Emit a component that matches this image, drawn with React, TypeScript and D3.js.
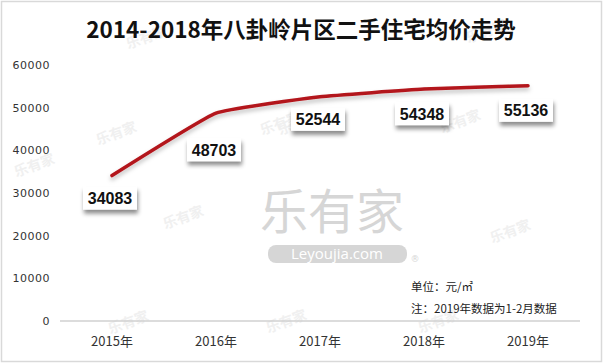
import React, { useEffect, useRef } from "react";
import * as d3 from "d3";

const years = ["2015年", "2016年", "2017年", "2018年", "2019年"];
const prices = [34083, 48703, 52544, 54348, 55136];
const yTicks = [0, 10000, 20000, 30000, 40000, 50000, 60000];
const labelDy = [23, 37, 23, 25, 25];
const marks = [
  [148, 42], [488, 36], [118, 138], [282, 128], [185, 222], [300, 128],
  [462, 126], [130, 327], [288, 326], [440, 326], [512, 236], [36, 170],
];

const W = 603;
const H = 363;

export default function App() {
  const ref = useRef<SVGSVGElement>(null);

  useEffect(() => {
    const svg = d3.select(ref.current);
    svg.selectAll("*").remove();

    const x = d3.scaleBand().domain(years).range([60, 580]);
    const y = d3.scaleLinear().domain([0, 60000]).range([321, 65]);
    const cx = (d: string) => (x(d) as number) + x.bandwidth() / 2;

    const defs = svg.append("defs");
    const f = defs.append("filter").attr("id", "shd").attr("x", "-30%").attr("y", "-30%").attr("width", "160%").attr("height", "180%");
    f.append("feDropShadow").attr("dx", 1).attr("dy", 4).attr("stdDeviation", 2).attr("flood-color", "#000").attr("flood-opacity", 0.45);
    const lf = defs.append("filter").attr("id", "lshd").attr("x", "-10%").attr("y", "-30%").attr("width", "120%").attr("height", "160%");
    lf.append("feDropShadow").attr("dx", 0).attr("dy", 3).attr("stdDeviation", 2).attr("flood-color", "#000").attr("flood-opacity", 0.25);

    svg.append("rect").attr("x", 0).attr("y", 0).attr("width", W).attr("height", H).attr("fill", "#fff");
    svg.append("rect").attr("x", 1.5).attr("y", 1.5).attr("width", W - 3).attr("height", H - 3)
      .attr("fill", "none").attr("stroke", "#d9d9d9").attr("stroke-width", 1.5);

    // small watermarks
    svg.selectAll("text.wm").data(marks).enter().append("text")
      .attr("class", "wm")
      .attr("transform", (d) => `translate(${d[0]},${d[1]}) rotate(-20)`)
      .attr("text-anchor", "middle")
      .attr("font-family", "Noto Sans CJK SC")
      .attr("font-weight", 700)
      .attr("font-size", 14)
      .attr("fill", "#f0f0f0")
      .text("乐有家");

    // big watermark
    svg.append("text").attr("x", 332).attr("y", 229).attr("text-anchor", "middle")
      .attr("font-family", "Noto Sans CJK SC").attr("font-size", 48).attr("fill", "#d6d6d6").text("乐有家");
    svg.append("rect").attr("x", 268).attr("y", 245).attr("width", 139).attr("height", 18).attr("rx", 8)
      .attr("fill", "#d6d6d6");
    svg.append("text").attr("x", 337).attr("y", 259).attr("text-anchor", "middle")
      .attr("font-family", "Open Sans").attr("font-size", 15).attr("fill", "#fff").text("Leyoujia.com");
    svg.append("text").attr("x", 415).attr("y", 262).attr("text-anchor", "middle")
      .attr("font-family", "DejaVu Sans").attr("font-size", 9).attr("fill", "#d6d6d6").text("®");

    // title
    svg.append("text").attr("x", 301).attr("y", 38).attr("text-anchor", "middle")
      .attr("font-family", "Noto Sans CJK SC").attr("font-weight", 700).attr("font-size", 22.5)
      .attr("fill", "#111").text("2014-2018年八卦岭片区二手住宅均价走势");

    // y axis labels
    svg.selectAll("text.yt").data(yTicks).enter().append("text")
      .attr("class", "yt")
      .attr("x", 50).attr("y", (d) => y(d) + 4)
      .attr("text-anchor", "end")
      .attr("font-family", "DejaVu Sans").attr("font-size", 11).attr("letter-spacing", 0.5)
      .attr("fill", "#333").text((d) => d);

    // x axis line
    svg.append("line").attr("x1", 60).attr("x2", 580).attr("y1", y(0)).attr("y2", y(0))
      .attr("stroke", "#d0d0d0").attr("stroke-width", 1.5);

    svg.selectAll("text.xt").data(years).enter().append("text")
      .attr("class", "xt")
      .attr("x", (d) => cx(d)).attr("y", 346)
      .attr("text-anchor", "middle")
      .attr("font-family", "Noto Sans CJK SC").attr("font-size", 13)
      .attr("fill", "#333").text((d) => d);

    // notes
    svg.append("text").attr("x", 411).attr("y", 291)
      .attr("font-family", "Noto Sans CJK SC").attr("font-size", 11.5).attr("fill", "#222").text("单位：元/㎡");
    svg.append("text").attr("x", 411).attr("y", 313)
      .attr("font-family", "Noto Sans CJK SC").attr("font-size", 11.5).attr("fill", "#222").text("注：2019年数据为1-2月数据");

    // line
    const line = d3.line<number>()
      .x((_, i) => cx(years[i]))
      .y((d) => y(d))
      .curve(d3.curveCardinal.tension(0.65));
    svg.append("path").datum(prices).attr("d", line)
      .attr("fill", "none").attr("stroke", "#b3151b").attr("stroke-width", 3.5)
      .attr("stroke-linecap", "round").attr("filter", "url(#lshd)");

    // labels
    const g = svg.selectAll("g.lbl").data(prices).enter().append("g")
      .attr("class", "lbl")
      .attr("transform", (d, i) => `translate(${cx(years[i]) - 2},${y(d) + labelDy[i]})`);
    g.append("rect").attr("x", -27).attr("y", -12).attr("width", 54).attr("height", 23)
      .attr("fill", "#fff").attr("filter", "url(#shd)");
    g.append("text").attr("y", 5.5).attr("text-anchor", "middle")
      .attr("font-family", "Liberation Sans").attr("font-weight", 700).attr("font-size", 16)
      .attr("fill", "#111").text((d) => d);
  }, []);

  return (
    <svg ref={ref} width={W} height={H} style={{ position: "absolute", left: 0, top: 0 }} />
  );
}
